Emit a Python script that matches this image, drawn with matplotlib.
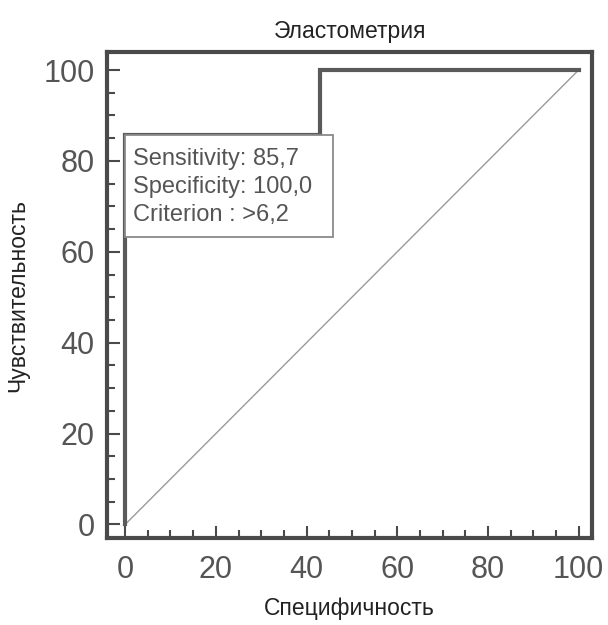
import matplotlib.pyplot as plt
from matplotlib.ticker import MultipleLocator
from matplotlib.patches import Rectangle

# ROC curve points (100 - specificity, sensitivity)
roc_x = [0, 0, 42.9, 42.9, 100]
roc_y = [0, 85.7, 85.7, 100, 100]
diag = [0, 100]

sens = "85,7"
spec = "100,0"
crit = ">6,2"

plt.rcParams['font.family'] = ['Liberation Sans', 'DejaVu Sans']
grey = '#4a4a4a'

fig = plt.figure(figsize=(6.08, 6.25), dpi=100)
ax = fig.add_axes([0.176, 0.139, 0.798, 0.778])

ax.plot(diag, diag, color='#9a9a9a', lw=1.0)
ax.plot(roc_x, roc_y, color='#5a5a5a', lw=3, solid_joinstyle='miter')

ax.set_xlim(-4, 103)
ax.set_ylim(-3, 104)
ax.xaxis.set_major_locator(MultipleLocator(20))
ax.yaxis.set_major_locator(MultipleLocator(20))
ax.xaxis.set_minor_locator(MultipleLocator(5))
ax.yaxis.set_minor_locator(MultipleLocator(5))
ax.tick_params(which='both', direction='in', color=grey, width=1.5,
               labelsize=22, labelcolor='#555555')
ax.tick_params(which='major', length=9)
ax.tick_params(which='minor', length=6)
ax.tick_params(axis='x', pad=12)
ax.tick_params(axis='y', pad=9)
for s in ax.spines.values():
    s.set_color(grey)
    s.set_linewidth(3)

# info box over the curve
ax.add_patch(Rectangle((0, 63.2), 45.9, 22.5, fc='white', ec='#8a8a8a',
                       lw=1.3, zorder=3))
ax.text(1.8, 82.8, f"Sensitivity: {sens}\nSpecificity: {spec}\nCriterion : {crit}",
        fontsize=17, color='#555555', va='top', ha='left', linespacing=1.36,
        zorder=4)

ax.set_title('Эластометрия', fontsize=16.5, pad=10, color='#222222')
ax.set_xlabel('Специфичность', fontsize=16.5, labelpad=9, color='#222222')
ax.set_ylabel('Чувствительность', fontsize=16.5, labelpad=10, color='#222222')

plt.savefig('out.png', dpi=100)
